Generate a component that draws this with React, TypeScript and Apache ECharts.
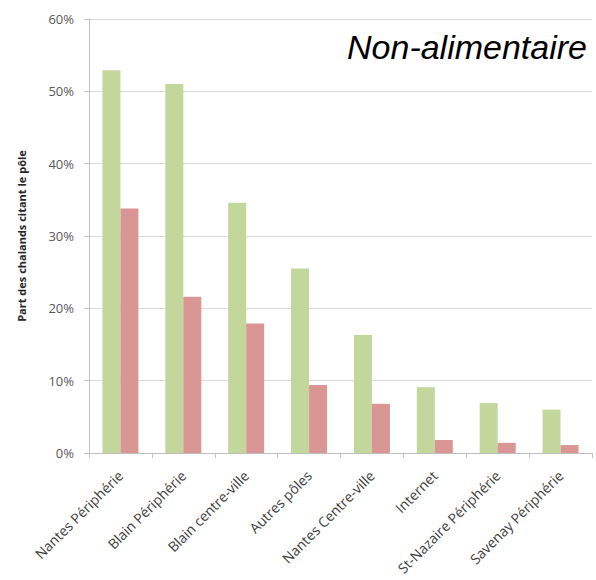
import React, { useEffect, useRef } from "react";
import * as echarts from "echarts";

const categories = [
  "Nantes Périphérie",
  "Blain Périphérie",
  "Blain centre-ville",
  "Autres pôles",
  "Nantes Centre-ville",
  "Internet",
  "St-Nazaire Périphérie",
  "Savenay Périphérie",
];
const seriesA = [52.9, 51.0, 34.6, 25.5, 16.3, 9.1, 6.9, 6.0];
const seriesB = [33.8, 21.6, 17.9, 9.4, 6.8, 1.8, 1.4, 1.1];
const yTicks = { min: 0, max: 60, interval: 10 };

export default function App() {
  const ref = useRef<HTMLDivElement>(null);
  useEffect(() => {
    if (!ref.current) return;
    const chart = echarts.init(ref.current, null, { renderer: "svg" });
    chart.setOption({
      animation: false,
      backgroundColor: "#ffffff",
      grid: { left: 89, right: 4, top: 19, bottom: 127, containLabel: false },
      graphic: [
        {
          type: "text",
          right: 9,
          top: 30,
          style: {
            text: "Non-alimentaire",
            font: "italic 34px 'Liberation Sans', Arial, sans-serif",
            fill: "#000000",
          },
        },
      ],
      xAxis: {
        type: "category",
        data: categories,
        axisLine: { lineStyle: { color: "#bfbfbf", width: 1 } },
        axisTick: { show: true, length: 5, lineStyle: { color: "#bfbfbf" } },
        axisLabel: {
          rotate: 45,
          interval: 0,
          margin: 20,
          fontSize: 14,
          color: "#404040",
          fontFamily: "'Open Sans', 'Noto Sans', sans-serif",
        },
      },
      yAxis: {
        type: "value",
        min: yTicks.min,
        max: yTicks.max,
        interval: yTicks.interval,
        name: "Part des chalands citant le pôle",
        nameLocation: "middle",
        nameGap: 62,
        nameTextStyle: {
          fontSize: 11,
          fontWeight: "bold",
          color: "#262626",
          fontFamily: "'Open Sans', 'Noto Sans', sans-serif",
        },
        axisLine: { show: true, lineStyle: { color: "#bfbfbf", width: 1 } },
        axisTick: { show: true, length: 5, lineStyle: { color: "#bfbfbf" } },
        axisLabel: {
          formatter: "{value}%",
          fontSize: 13,
          margin: 15,
          color: "#595959",
          fontFamily: "'Open Sans', 'Noto Sans', sans-serif",
        },
        splitLine: { show: true, lineStyle: { color: "#d9d9d9", width: 1 } },
      },
      series: [
        {
          type: "bar",
          data: seriesA,
          barWidth: 18,
          barGap: "0%",
          itemStyle: { color: "#c3d69b" },
        },
        {
          type: "bar",
          data: seriesB,
          barWidth: 18,
          barGap: "0%",
          itemStyle: { color: "#d99694" },
        },
      ],
    });
    return () => chart.dispose();
  }, []);
  return (
    <div
      ref={ref}
      style={{ position: "fixed", left: 0, top: 0, width: 596, height: 580 }}
    />
  );
}
